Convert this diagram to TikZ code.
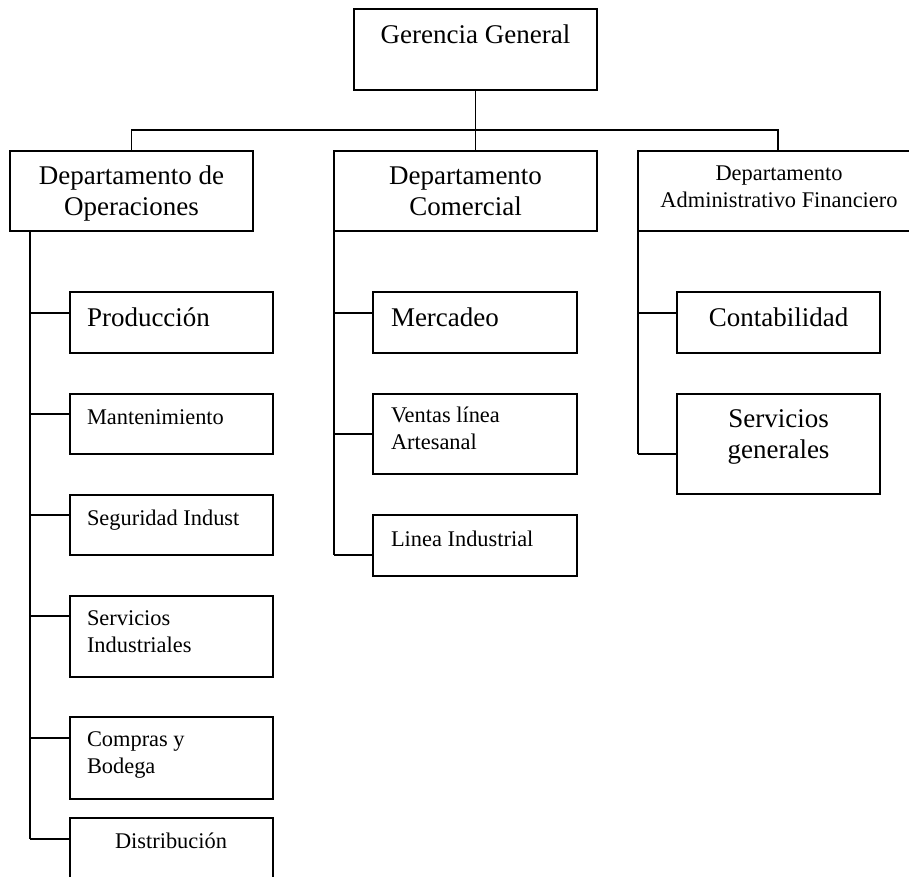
\documentclass[tikz,border=0pt]{standalone}
\usepackage{fontspec}
\setmainfont{Liberation Serif}
\begin{document}
\begin{tikzpicture}[x=1pt, y=-1pt]
\tikzset{ inner sep=0pt, outer sep=0pt,
  caja/.style={draw, rectangle, line width=1.3pt},
  linea/.style={line width=1.3pt},
  grande/.style={font=\fontsize{27}{31}\selectfont, align=center},
  chico/.style={font=\fontsize{22.4}{27}\selectfont, align=left},
}

\useasboundingbox (0,0) rectangle (909,876);

%%% Cajas

% Gerencia
\node [caja, minimum width=243pt, minimum height=81pt] (GG) at (475.5,49.5) { };
\node [grande, anchor=base] (GGt) at (475.5,43) {Gerencia General};

% Departamentos
\node [caja, minimum width=243pt, minimum height=80pt] (DOP) at (131.5,191) { };
\node [grande, anchor=base] (DOPt) at (131.5,215) {Departamento de\\Operaciones};

\node [caja, minimum width=263pt, minimum height=80pt] (DCOM) at (465.5,191) { };
\node [grande, anchor=base] (DCOMt) at (465.5,215) {Departamento\\Comercial};

\node [caja, minimum width=280pt, minimum height=80pt] (DADM) at (778,191) { };
\node [chico, align=center, anchor=base] (DADMt) at (779,207) {Departamento\\Administrativo Financiero};

% Operaciones
\node [caja, minimum width=203pt, minimum height=61pt] (PROD) at (171.5,322.5) { };
\node [grande, anchor=base west] (PRODt) at (87,326) {Producción};

\node [caja, minimum width=203pt, minimum height=60pt] (MANT) at (171.5,424) { };
\node [chico, anchor=base west] (MANTt) at (87,424) {Mantenimiento};

\node [caja, minimum width=203pt, minimum height=60pt] (SEG) at (171.5,525) { };
\node [chico, anchor=base west] (SEGt) at (87,525) {Seguridad Indust};

\node [caja, minimum width=203pt, minimum height=81pt] (SIND) at (171.5,636.5) { };
\node [chico, anchor=base west] (SINDt) at (87,652) {Servicios\\Industriales};

\node [caja, minimum width=203pt, minimum height=82pt] (COMP) at (171.5,758) { };
\node [chico, anchor=base west] (COMPt) at (87,773) {Compras y\\Bodega};

\node [caja, minimum width=203pt, minimum height=82pt] (DIST) at (171.5,859) { };
\node [chico, anchor=base] (DISTt) at (171,848) {Distribución};

% Comercial
\node [caja, minimum width=204pt, minimum height=61pt] (MERC) at (475,322.5) { };
\node [grande, anchor=base west] (MERCt) at (391,326) {Mercadeo};

\node [caja, minimum width=204pt, minimum height=80pt] (VENT) at (475,434) { };
\node [chico, anchor=base west] (VENTt) at (391,449) {Ventas línea\\Artesanal};

\node [caja, minimum width=204pt, minimum height=61pt] (LIND) at (475,545.5) { };
\node [chico, anchor=base west] (LINDt) at (391,546) {Linea Industrial};

% Administrativo
\node [caja, minimum width=203pt, minimum height=61pt] (CONT) at (778.5,322.5) { };
\node [grande, anchor=base] (CONTt) at (778.5,326) {Contabilidad};

\node [caja, minimum width=203pt, minimum height=100pt] (SGEN) at (778.5,444) { };
\node [grande, anchor=base] (SGENt) at (778.5,458) {Servicios\\generales};

%%% Lineas

% Gerencia -> departamentos
\draw [linea] (GG.south) -- (GG.south |- DCOM.north);
\draw [linea] (DOP.north) -- ++(0,-21) -| (DADM.north);

% troncos
\coordinate (OPfin) at (30,839);
\coordinate (COMfin) at (334,555);
\coordinate (ADMfin) at (638,454);
\draw [linea] (DOP.south west) ++(20,0) -- (OPfin);
\draw [linea] (DCOM.south west) -- (COMfin);
\draw [linea] (DADM.south west) -- (ADMfin);

% ramas
\foreach \rama/\dy in {PROD/21, MANT/20, SEG/20, SIND/20, COMP/21, DIST/21}
  \draw [linea] (\rama.north west) ++(0,\dy) -- ++(-40,0);
\foreach \rama/\dy in {MERC/21, VENT/40, LIND/40}
  \draw [linea] (\rama.north west) ++(0,\dy) -- ++(-39,0);
\foreach \rama/\dy in {CONT/21, SGEN/60}
  \draw [linea] (\rama.north west) ++(0,\dy) -- ++(-39,0);

\end{tikzpicture}
\end{document}
